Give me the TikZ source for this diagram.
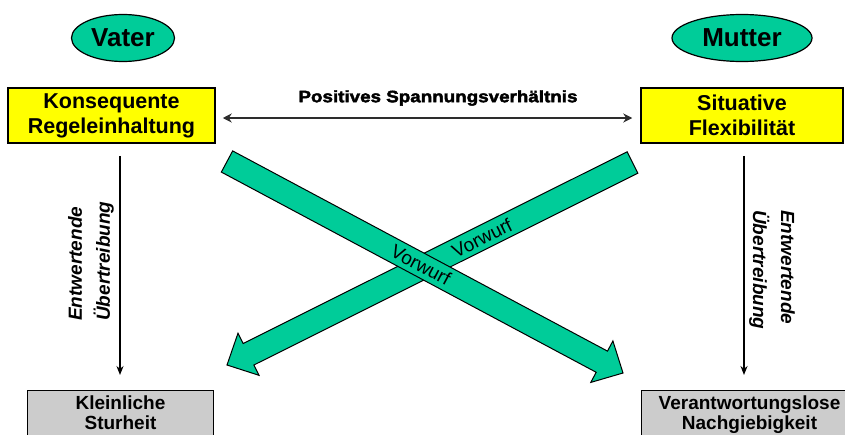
\documentclass[tikz,border=0pt]{standalone}
\usepackage{fontspec}
\setmainfont{Liberation Sans}
\newfontfamily\heavyfont[FakeBold=2.5,FakeStretch=1.14]{Liberation Sans Bold}
\usetikzlibrary{calc,arrows.meta,shapes.geometric}
\definecolor{mint}{RGB}{0,204,153}
\definecolor{signal}{RGB}{255,255,0}
\definecolor{ash}{RGB}{204,204,204}
\definecolor{ink}{RGB}{45,45,45}

\begin{document}
\begin{tikzpicture}[x=1pt,y=-1pt,
  rolebubble/.style={ellipse, draw=black, line width=1.2pt, fill=mint,
    inner sep=0pt, minimum height=47pt,
    font=\fontsize{26}{30}\selectfont\bfseries},
  traitbox/.style={draw=black, line width=1.5pt, fill=signal, align=center,
    minimum height=55pt, inner sep=0pt,
    font=\fontsize{21.5}{25}\selectfont\bfseries},
  excessbox/.style={draw=black, line width=1pt, fill=ash, align=center,
    anchor=north west, inner xsep=0pt, inner ysep=5pt, text depth=30pt,
    font=\fontsize{19}{20}\selectfont\bfseries},
  pullline/.style={draw=ink, line width=1.8pt, {Stealth[length=9pt,width=9pt]}-{Stealth[length=9pt,width=9pt]}},
  downline/.style={draw=black, line width=1.5pt, -{Stealth[length=9pt,width=7pt]}},
  sidenote/.style={inner sep=0pt, align=left, anchor=west,
    font=\fontsize{19}{28}\selectfont\bfseries\itshape},
  fatarrow/.style={fill=mint, draw=black, line width=1pt, line join=miter},
  reproach/.style={inner sep=0pt, font=\fontsize{19}{22}\selectfont}
]
\useasboundingbox (0,0) rectangle (845,434);
\clip (0,0) rectangle (845,434);

% parents
\node[rolebubble, minimum width=103pt] (vater) at (123,38) {Vater};
\node[rolebubble, minimum width=140pt] (mutter) at (742,38) {Mutter};

% the two strengths
\node[traitbox, minimum width=207pt] (kr) at (111.5,115.5) {Konsequente\\Regeleinhaltung};
\node[traitbox, minimum width=202pt] (sf) at (742,115.5) {Situative\\Flexibilität};

% the two exaggerations
\node[excessbox, minimum width=186pt] (st) at (27,390) {Kleinliche\\Sturheit};
\node[excessbox, minimum width=216pt] (ng) at (641,390) {Verantwortungslose\\Nachgiebigkeit};

% positive tension between the strengths
\draw[pullline, shorten <=7pt, shorten >=8pt]
  ($(kr.east)+(0,2.5)$) -- ($(sf.west)+(0,2.5)$);
\node[font=\heavyfont\fontsize{16.5}{20}\selectfont] (pos) at (438,98) {Positives Spannungsverhältnis};

% devaluing exaggeration
\draw[downline, shorten <=12pt, shorten >=15pt]
  ($(kr.south)+(8.5,0)$) -- ($(kr.south |- st.north)+(8.5,0)$);
\draw[downline, shorten <=12pt, shorten >=15pt]
  ($(sf.south)+(2,0)$) -- ($(sf.south |- ng.north)+(2,0)$);
\node[sidenote, rotate=90] (lnote) at (91,321) {Entwertende\\Übertreibung};
\node[sidenote, rotate=-90] (rnote) at (772,210) {Entwertende\\Übertreibung};

% crossing reproaches
\coordinate (btail) at (632.5,162.5);
\coordinate (btip) at (227,365);
\coordinate (atail) at (227,161.5);
\coordinate (atip) at (623,373);
\coordinate (bhead) at ($(btip)!24pt!(btail)$);
\coordinate (ahead) at ($(atip)!24pt!(atail)$);

\filldraw[fatarrow]
  ($(btail)!12pt!90:(btip)$) -- ($(bhead)!12pt!-90:(btail)$)
  -- ($(bhead)!23.5pt!-90:(btail)$) -- (btip)
  -- ($(bhead)!23.5pt!90:(btail)$) -- ($(bhead)!12pt!90:(btail)$)
  -- ($(btail)!12pt!-90:(btip)$) -- cycle;
\filldraw[fatarrow]
  ($(atail)!12pt!90:(atip)$) -- ($(ahead)!12pt!-90:(atail)$)
  -- ($(ahead)!23.5pt!-90:(atail)$) -- (atip)
  -- ($(ahead)!23.5pt!90:(atail)$) -- ($(ahead)!12pt!90:(atail)$)
  -- ($(atail)!12pt!-90:(atip)$) -- cycle;

\node[reproach, rotate=26.6] (vb) at (482,238) {Vorwurf};
\node[reproach, rotate=-28.1] (va) at (421,265) {Vorwurf};
\end{tikzpicture}
\end{document}
